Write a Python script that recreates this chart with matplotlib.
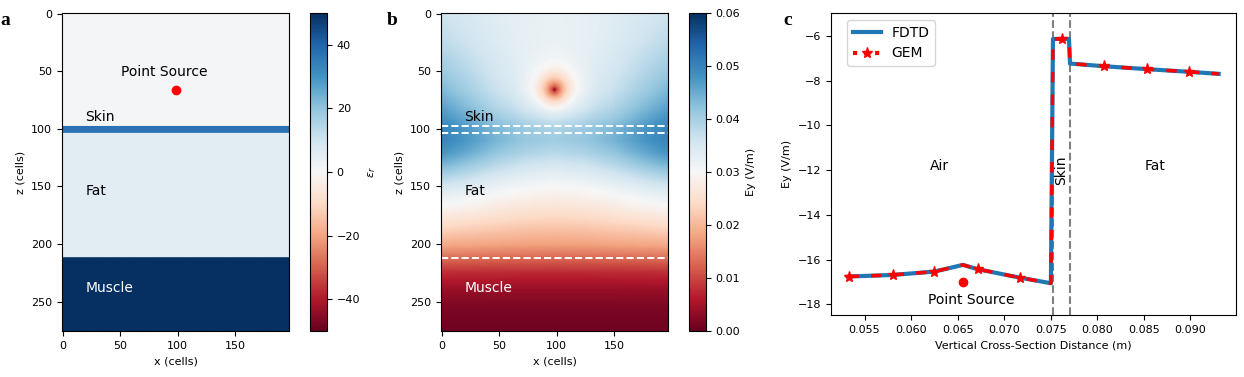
import numpy as np
import matplotlib
matplotlib.use('Agg')
import matplotlib.pyplot as plt
from matplotlib.lines import Line2D

### DATA

# grid (cells) and point source
NX, NZ = 197, 276
src_x, src_z = 98, 66

# layers for panel a (top row of each layer, relative permittivity)
layer_names = ['Air', 'Skin', 'Fat', 'Muscle']
layer_top = [0, 98, 104, 212]
layer_eps = [1.0, 37.0, 5.5, 52.0]

# panel b: Ey at a few depths (rows) and distances from centre (cols)
field_z = [0, 25, 50, 66, 80, 90, 100, 110, 120, 130, 140, 150, 160, 170,
           185, 200, 212, 225, 240, 255, 276]
field_dx = [0, 25, 50, 75, 98]
field_vals = [
    [0.0320, 0.0324, 0.0334, 0.0348, 0.0360],
    [0.0318, 0.0324, 0.0340, 0.0361, 0.0380],
    [0.0320, 0.0329, 0.0352, 0.0383, 0.0410],
    [0.0325, 0.0336, 0.0364, 0.0402, 0.0435],
    [0.0345, 0.0357, 0.0385, 0.0426, 0.0460],
    [0.0370, 0.0381, 0.0408, 0.0447, 0.0480],
    [0.0400, 0.0410, 0.0435, 0.0470, 0.0500],
    [0.0405, 0.0415, 0.0438, 0.0472, 0.0500],
    [0.0385, 0.0395, 0.0418, 0.0452, 0.0480],
    [0.0355, 0.0364, 0.0387, 0.0418, 0.0445],
    [0.0325, 0.0333, 0.0351, 0.0378, 0.0400],
    [0.0300, 0.0306, 0.0319, 0.0339, 0.0355],
    [0.0278, 0.0282, 0.0293, 0.0307, 0.0320],
    [0.0255, 0.0259, 0.0267, 0.0280, 0.0290],
    [0.0218, 0.0220, 0.0226, 0.0233, 0.0240],
    [0.0178, 0.0179, 0.0182, 0.0185, 0.0188],
    [0.0128, 0.0129, 0.0130, 0.0132, 0.0134],
    [0.0075, 0.0075, 0.0076, 0.0077, 0.0078],
    [0.0038, 0.0038, 0.0038, 0.0039, 0.0039],
    [0.0018, 0.0018, 0.0018, 0.0018, 0.0018],
    [0.0008, 0.0008, 0.0008, 0.0008, 0.0008],
]
# dip of the field around the source (radius in cells)
src_r = [0, 1.5, 3, 6, 10, 15, 20, 28, 40]
src_dip = [-0.031, -0.024, -0.020, -0.015, -0.010, -0.006, -0.003, -0.001, 0.0]

# panel c: vertical cross-section through the source
cx = [0.05328, 0.05801, 0.06249, 0.06557, 0.06714, 0.07166, 0.07502, 0.07524,
      0.0762, 0.07696, 0.07707, 0.08075, 0.08534, 0.08989, 0.09304]
fdtd = [-16.76, -16.69, -16.54, -16.24, -16.43, -16.81, -17.06, -6.14,
        -6.14, -6.14, -7.24, -7.36, -7.49, -7.61, -7.70]
gem = [-16.76, -16.69, -16.54, -16.24, -16.43, -16.81, -17.06, -6.14,
       -6.14, -6.14, -7.24, -7.36, -7.49, -7.61, -7.70]
gem_stars = [0, 1, 2, 4, 5, 8, 11, 12, 13]
skin_x = [0.0752, 0.0771]
src_pos = (0.06557, -17.02)

### SETUP
W, H = 1244, 377
fig = plt.figure(figsize=(W / 100, H / 100), dpi=100)
plt.rcParams['font.size'] = 8

def px_axes(l, t, r, b):
    return fig.add_axes([l / W, 1 - b / H, (r - l) / W, (b - t) / H])

ax_a = px_axes(62, 13, 289, 331)
cax_a = px_axes(310, 13, 327, 331)
ax_b = px_axes(441, 13, 668, 331)
cax_b = px_axes(689, 13, 706, 331)
ax_c = px_axes(831, 13, 1236, 315)

### PANEL A
eps = np.zeros((NZ, NX))
for top, val in zip(layer_top, layer_eps):
    eps[top:, :] = val
im = ax_a.imshow(eps, cmap='RdBu', vmin=-50, vmax=50, aspect='auto')
cb = fig.colorbar(im, cax=cax_a, ticks=[-40, -20, 0, 20, 40])
cb.set_label(r'$\epsilon_r$')
ax_a.plot(src_x, src_z, 'o', color='red', ms=6)
ax_a.text(51, 51, 'Point Source', fontsize=10, va='center')

label_z = [None, 90, 154, 238]
for name, zt in zip(layer_names, label_z):
    if zt is None:
        continue
    ax_a.text(20, zt, name, fontsize=10, va='center',
              color='white' if name == 'Muscle' else 'black')

### PANEL B
xx = np.arange(NX)
zz = np.arange(NZ)
dxx = np.abs(xx - src_x)
rows = np.array([np.interp(dxx, field_dx, row) for row in field_vals])
ey = np.array([np.interp(zz, field_z, rows[:, j]) for j in range(NX)]).T
rr = np.hypot(xx[None, :] - src_x, zz[:, None] - src_z)
ey = np.clip(ey + np.interp(rr, src_r, src_dip), 0, None)

im2 = ax_b.imshow(ey, cmap='RdBu', vmin=0, vmax=0.06, aspect='auto')
cb2 = fig.colorbar(im2, cax=cax_b, ticks=np.arange(0, 0.061, 0.01))
cb2.set_label('Ey (V/m)')
for zline in [98, 104, 212]:
    ax_b.axhline(zline, color='white', ls='--', lw=1.4)
for name, zt in zip(layer_names, label_z):
    if zt is None:
        continue
    ax_b.text(20, zt, name, fontsize=10, va='center',
              color='white' if name == 'Muscle' else 'black')

for ax in (ax_a, ax_b):
    ax.set_xticks([0, 50, 100, 150])
    ax.set_yticks([0, 50, 100, 150, 200, 250])
    ax.set_xlabel('x (cells)')
    ax.set_ylabel('z (cells)')

### PANEL C
ax_c.plot(cx, fdtd, color='#1f77b4', lw=3, zorder=2)
ax_c.plot(cx, gem, color='red', lw=2.5, ls=(0, (3, 3.5)), marker='*', ms=8,
          markevery=gem_stars, zorder=3)
for xv in skin_x:
    ax_c.axvline(xv, color='gray', ls='--', lw=1.5, zorder=1)
ax_c.plot(*src_pos, 'o', color='red', ms=6)
ax_c.text(0.0630, -11.8, 'Air', fontsize=10, ha='center', va='center')
ax_c.text(0.0862, -11.8, 'Fat', fontsize=10, ha='center', va='center')
ax_c.text(0.07613, -11.99, 'Skin', fontsize=10, ha='center', va='center', rotation=90)
ax_c.text(0.06646, -17.8, 'Point Source', fontsize=10, ha='center', va='center')
ax_c.set_xlim(0.0514, 0.0949)
ax_c.set_ylim(-18.48, -4.98)
ax_c.set_xticks([0.055, 0.060, 0.065, 0.070, 0.075, 0.080, 0.085, 0.090])
ax_c.set_yticks([-18, -16, -14, -12, -10, -8, -6])
ax_c.set_xlabel('Vertical Cross-Section Distance (m)')
ax_c.set_ylabel('Ey (V/m)')

handles = [Line2D([], [], color='#1f77b4', lw=3),
           Line2D([], [], color='red', lw=3, ls=':', marker='*', ms=8)]
ax_c.legend(handles, ['FDTD', 'GEM'], loc='upper left', fontsize=10,
            bbox_to_anchor=(0.04, 0.977), borderaxespad=0)

### PANEL LETTERS
for lx, letter in [(0, 'a'), (387, 'b'), (783, 'c')]:
    fig.text(lx / W, 1 - 25 / H, letter, fontsize=14, fontweight='bold',
             family='Liberation Serif', va='baseline')

fig.savefig('out.png', dpi=100)
